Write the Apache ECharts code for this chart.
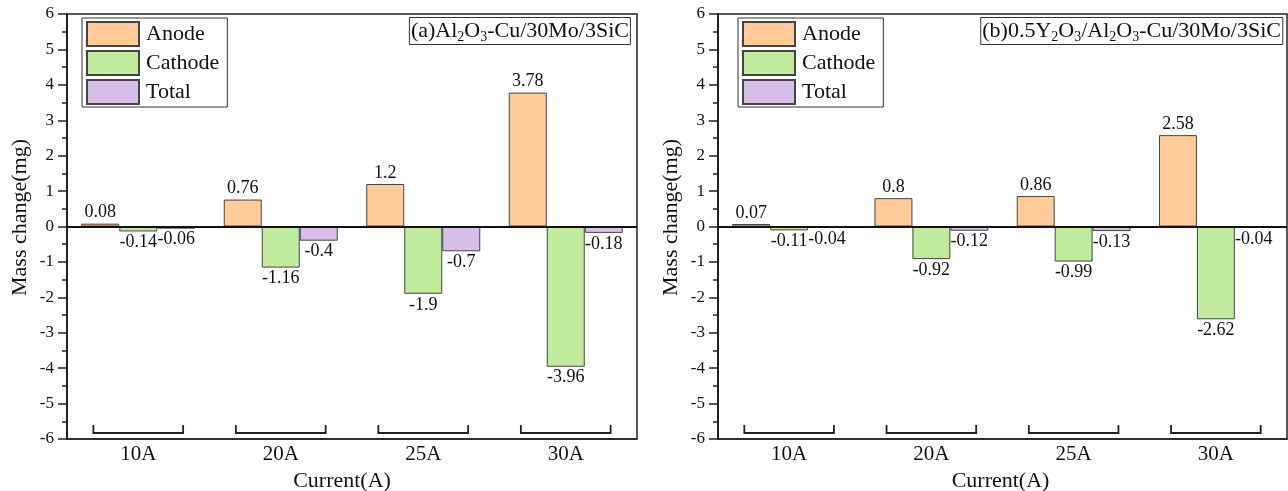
<!DOCTYPE html>
<html>
<head>
<meta charset="utf-8">
<script src="https://cdn.jsdelivr.net/npm/echarts@6/dist/echarts.min.js"></script>
<style>
  html, body { margin: 0; padding: 0; background: #fff; overflow: hidden; }
  #chart { width: 1288px; height: 491px; }
</style>
</head>
<body>
<div id="chart"></div>
<script>
// Mass change of anode, cathode and total contact at each current
const categories = ['10A', '20A', '25A', '30A'];

// (a) Al2O3-Cu/30Mo/3SiC
const anodeA   = [0.08, 0.76, 1.2, 3.78];
const cathodeA = [-0.14, -1.16, -1.9, -3.96];
const totalA   = [-0.06, -0.4, -0.7, -0.18];

// (b) 0.5Y2O3/Al2O3-Cu/30Mo/3SiC
const anodeB   = [0.07, 0.8, 0.86, 2.58];
const cathodeB = [-0.11, -0.92, -0.99, -2.62];
const totalB   = [-0.04, -0.12, -0.13, -0.04];

const yMin = -6, yMax = 6, yStep = 1;
const seriesNames = ['Anode', 'Cathode', 'Total'];

const FONT = '"Liberation Serif", "Times New Roman", serif';
const colors = { Anode: '#FFCC99', Cathode: '#C0EB9C', Total: '#D8BFEA' };

const chart = echarts.init(document.getElementById('chart'), null, { renderer: 'canvas' });

function withLabels(values) {
  return values.map(v => ({
    value: v,
    label: { position: v < 0 ? 'bottom' : 'top' }
  }));
}

function barSeries(name, values, idx, withZeroLine) {
  const s = {
    name: name,
    type: 'bar',
    xAxisIndex: idx,
    yAxisIndex: idx,
    barGap: '0%',
    barCategoryGap: '20%',
    data: withLabels(values),
    itemStyle: { color: colors[name], borderColor: '#444', borderWidth: 1 },
    label: {
      show: true,
      distance: 2,
      fontFamily: FONT,
      fontSize: 18,
      color: '#111'
    },
    emphasis: { disabled: true }
  };
  if (withZeroLine) {
    s.markLine = {
      silent: true,
      symbol: 'none',
      label: { show: false },
      lineStyle: { color: '#111', width: 2, type: 'solid' },
      data: [{ yAxis: 0 }]
    };
  }
  return s;
}

// Bracket under each category group, drawn along the bottom axis
function bracketSeries(idx) {
  return {
    type: 'custom',
    xAxisIndex: idx,
    yAxisIndex: idx,
    silent: true,
    clip: false,
    data: categories.map((c, i) => [i]),
    renderItem: function (params, api) {
      const p = api.coord([api.value(0), yMin]);
      const w = api.size([1, 0])[0] * 0.63;
      const x0 = p[0] - w / 2, x1 = p[0] + w / 2;
      return {
        type: 'polyline',
        shape: { points: [[x0, p[1] - 14], [x0, p[1] - 6], [x1, p[1] - 6], [x1, p[1] - 14]] },
        style: { stroke: '#222', fill: null, lineWidth: 1.8 }
      };
    }
  };
}

function xAxisCfg(idx) {
  return {
    type: 'category',
    gridIndex: idx,
    data: categories,
    position: 'bottom',
    axisLine: { show: true, onZero: false, lineStyle: { color: '#222', width: 1.5 } },
    axisTick: { show: false },
    axisLabel: { fontFamily: FONT, fontSize: 21, color: '#111', margin: 5 },
    name: 'Current(A)',
    nameLocation: 'middle',
    nameGap: 22,
    nameTextStyle: { fontFamily: FONT, fontSize: 22, color: '#111', padding: [0, idx === 0 ? 20 : 4, 0, 0] },
    splitLine: { show: false }
  };
}

function yAxisCfg(idx) {
  return {
    type: 'value',
    gridIndex: idx,
    min: yMin,
    max: yMax,
    interval: yStep,
    axisLine: { show: true, onZero: false, lineStyle: { color: '#222', width: 2 } },
    axisTick: { show: true, inside: false, length: 9, lineStyle: { color: '#222', width: 1.5 } },
    minorTick: { show: true, splitNumber: 2, length: 5, lineStyle: { color: '#222', width: 1.5 } },
    axisLabel: { fontFamily: FONT, fontSize: 17, color: '#111', margin: 13 },
    splitLine: { show: false },
    name: 'Mass change(mg)',
    nameLocation: 'middle',
    nameGap: 36,
    nameTextStyle: { fontFamily: FONT, fontSize: 22, color: '#111', padding: [0, 0, 0, 18] }
  };
}

function legendCfg(idx, left) {
  return {
    data: seriesNames,
    orient: 'vertical',
    left: left,
    top: 18,
    padding: [3, 8, 2, 4],
    itemGap: 3,
    itemWidth: 52,
    itemHeight: 24,
    icon: 'rect',
    borderColor: '#333',
    borderWidth: 1,
    selectedMode: false,
    textStyle: { fontFamily: FONT, fontSize: 22, color: '#111', padding: [0, 0, 0, 2] }
  };
}

const titleRich = {
  m: { fontFamily: FONT, fontSize: 22, fontWeight: 'normal', color: '#111', lineHeight: 22 },
  s: { fontFamily: FONT, fontSize: 14, fontWeight: 'normal', color: '#111', lineHeight: 22, padding: [12, 0, 0, 0] }
};

const gridBase = {
  top: 14, bottom: 52, show: true,
  borderColor: '#222', borderWidth: 1.5, backgroundColor: 'transparent',
  containLabel: false, outerBoundsMode: 'none'
};

const option = {
  animation: false,
  backgroundColor: '#fff',
  title: [
    {
      text: '{m|(a)Al}{s|2}{m|O}{s|3}{m|-Cu/30Mo/3SiC}',
      right: 657,
      top: 19,
      padding: [1, 2, 1, 2],
      borderColor: '#333',
      borderWidth: 1,
      textStyle: { fontWeight: 'normal', rich: titleRich }
    },
    {
      text: '{m|(b)0.5Y}{s|2}{m|O}{s|3}{m|/Al}{s|2}{m|O}{s|3}{m|-Cu/30Mo/3SiC}',
      right: 5,
      top: 19,
      padding: [1, 2, 1, 2],
      borderColor: '#333',
      borderWidth: 1,
      textStyle: { fontWeight: 'normal', rich: titleRich }
    }
  ],
  legend: [legendCfg(0, 82), legendCfg(1, 738)],
  grid: [
    Object.assign({ left: 67, right: 651 }, gridBase),
    Object.assign({ left: 718, right: 1 }, gridBase)
  ],
  xAxis: [xAxisCfg(0), xAxisCfg(1)],
  yAxis: [yAxisCfg(0), yAxisCfg(1)],
  series: [
    barSeries('Anode', anodeA, 0, true),
    barSeries('Cathode', cathodeA, 0, false),
    barSeries('Total', totalA, 0, false),
    bracketSeries(0),
    barSeries('Anode', anodeB, 1, true),
    barSeries('Cathode', cathodeB, 1, false),
    barSeries('Total', totalB, 1, false),
    bracketSeries(1)
  ]
};

chart.setOption(option);
</script>
</body>
</html>
